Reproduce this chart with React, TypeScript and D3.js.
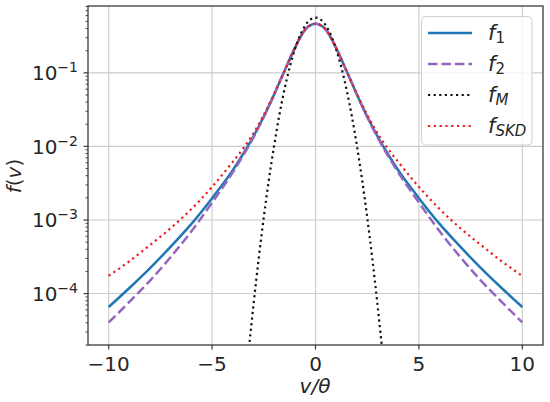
import React from 'react';
import * as d3 from 'd3';

// velocity grid (v/θ) for the kappa-like curves
const vGrid = [-10, -9, -8, -7, -6, -5, -4, -3.5, -3, -2.5, -2, -1.5, -1, -0.5, 0, 0.5, 1, 1.5, 2, 2.5, 3, 3.5, 4, 5, 6, 7, 8, 9, 10];

const f1Values = [
  0.0000656, 0.000119, 0.000222, 0.000434, 0.000885, 0.00198, 0.00475, 0.00789, 0.0137, 0.0255, 0.0509, 0.106, 0.217, 0.386,
  0.465,
  0.386, 0.217, 0.106, 0.0509, 0.0255, 0.0137, 0.00789, 0.00475, 0.00198, 0.000885, 0.000434, 0.000222, 0.000119, 0.0000656,
];

const f2Values = [
  0.0000405, 0.0000771, 0.00015, 0.000314, 0.000703, 0.001726, 0.00444, 0.0075, 0.01324, 0.0251, 0.0509, 0.106, 0.217, 0.386,
  0.465,
  0.386, 0.217, 0.106, 0.0509, 0.0251, 0.01324, 0.0075, 0.00444, 0.001726, 0.000703, 0.000314, 0.00015, 0.0000771, 0.0000405,
];

const fSkdValues = [
  0.000174, 0.000275, 0.000457, 0.000776, 0.00141, 0.00282, 0.00617, 0.00933, 0.0151, 0.0269, 0.0519, 0.106, 0.217, 0.386,
  0.465,
  0.386, 0.217, 0.106, 0.0519, 0.0269, 0.0151, 0.00933, 0.00617, 0.00282, 0.00141, 0.000776, 0.000457, 0.000275, 0.000174,
];

// finer grid for the Maxwellian
const vGridM = [-3.5, -3.25, -3, -2.75, -2.5, -2.25, -2, -1.75, -1.5, -1.25, -1, -0.75, -0.5, -0.25, 0, 0.25, 0.5, 0.75, 1, 1.25, 1.5, 1.75, 2, 2.25, 2.5, 2.75, 3, 3.25, 3.5];
const fMValues = [
  0.0000027, 0.0000146, 0.0000696, 0.000293, 0.00109, 0.00357, 0.0103, 0.0264, 0.0595, 0.1183, 0.2076, 0.3215, 0.4394, 0.53,
  0.5642,
  0.53, 0.4394, 0.3215, 0.2076, 0.1183, 0.0595, 0.0264, 0.0103, 0.00357, 0.00109, 0.000293, 0.0000696, 0.0000146, 0.0000027,
];

const xTicks = [-10, -5, 0, 5, 10];
const yTickExps = [-4, -3, -2, -1];

const series = [
  { key: 'f1', sub: '1', xs: vGrid, ys: f1Values, color: '#1f77b4', width: 2.5, dash: null },
  { key: 'f2', sub: '2', xs: vGrid, ys: f2Values, color: '#9467bd', width: 2.5, dash: '9.5,4' },
  { key: 'fM', sub: 'M', xs: vGridM, ys: fMValues, color: '#111111', width: 2.2, dash: '2.2,3.4' },
  { key: 'fSKD', sub: 'SKD', xs: vGrid, ys: fSkdValues, color: '#ee1c1c', width: 2.2, dash: '2.2,3.6' },
];

const W = 550;
const H = 402;
const left = 88;
const right = 543;
const top = 6;
const bottom = 345;
const font = '"DejaVu Sans", sans-serif';
const textColor = '#262626';

const App: React.FC = () => {
  const x = d3.scaleLinear().domain([-11, 11]).range([left, right]);
  const y = d3.scaleLog().domain([2e-5, 0.81]).range([bottom, top]);

  const minorTicks: number[] = [];
  for (let e = -5; e <= 0; e++) {
    for (let m = 2; m <= 9; m++) {
      const v = m * Math.pow(10, e);
      if (v >= 2e-5 && v <= 0.81) minorTicks.push(v);
    }
  }

  const line = d3
    .line<[number, number]>()
    .x((d) => x(d[0]))
    .y((d) => y(d[1]))
    .curve(d3.curveMonotoneX);

  const legendRows = [33, 64, 95, 126];

  return (
    <svg width={W} height={H} style={{ position: 'absolute', left: 0, top: 0, background: '#fff' }} fontFamily={font}>
      <defs>
        <clipPath id="plot">
          <rect x={left} y={top} width={right - left} height={bottom - top} />
        </clipPath>
      </defs>

      {/* grid */}
      {xTicks.map((t) => (
        <line key={'gx' + t} x1={x(t)} x2={x(t)} y1={top} y2={bottom} stroke="#cbcbcb" strokeWidth={1.1} />
      ))}
      {yTickExps.map((e) => (
        <line key={'gy' + e} x1={left} x2={right} y1={y(Math.pow(10, e))} y2={y(Math.pow(10, e))} stroke="#cbcbcb" strokeWidth={1.1} />
      ))}

      {/* curves */}
      <g clipPath="url(#plot)">
        {series.map((s) => (
          <path
            key={s.key}
            d={line(s.xs.map((v, i) => [v, s.ys[i]] as [number, number])) || ''}
            fill="none"
            stroke={s.color}
            strokeWidth={s.width}
            strokeDasharray={s.dash || undefined}
          />
        ))}
      </g>

      {/* frame */}
      <rect x={left} y={top} width={right - left} height={bottom - top} fill="none" stroke="#3a3a3a" strokeWidth={1.3} />

      {/* x ticks */}
      {xTicks.map((t) => (
        <g key={'xt' + t}>
          <line x1={x(t)} x2={x(t)} y1={bottom} y2={bottom + 4.5} stroke="#3a3a3a" strokeWidth={1.2} />
          <text x={x(t)} y={371} textAnchor="middle" fontSize={20} fill={textColor}>
            {t < 0 ? '\u2212' + Math.abs(t) : String(t)}
          </text>
        </g>
      ))}

      {/* y ticks */}
      {minorTicks.map((v) => (
        <line key={'mt' + v} x1={left - 2.5} x2={left} y1={y(v)} y2={y(v)} stroke="#3a3a3a" strokeWidth={0.9} />
      ))}
      {yTickExps.map((e) => {
        const ty = y(Math.pow(10, e));
        return (
          <g key={'yt' + e}>
            <line x1={left - 4.5} x2={left} y1={ty} y2={ty} stroke="#3a3a3a" strokeWidth={1.2} />
            <text x={78} y={ty + 7.3} textAnchor="end" fontSize={20} fill={textColor}>
              10
              <tspan fontSize={14} dy={-8}>
                {'\u2212' + Math.abs(e)}
              </tspan>
            </text>
          </g>
        );
      })}

      {/* axis labels */}
      <text x={315} y={393} textAnchor="middle" fontSize={20} fontStyle="italic" fill={textColor}>
        v/θ
      </text>
      <text transform={`translate(21,176) rotate(-90)`} textAnchor="middle" fontSize={20} fill={textColor}>
        <tspan fontStyle="italic">f</tspan>(<tspan fontStyle="italic">v</tspan>)
      </text>

      {/* legend */}
      <rect x={421.5} y={16.5} width={110.5} height={128.5} rx={4} fill="#ffffff" fillOpacity={0.8} stroke="#d0d0d0" strokeWidth={1} />
      {series.map((s, i) => {
        const ry = legendRows[i];
        return (
          <g key={'lg' + s.key}>
            <line
              x1={428}
              x2={472}
              y1={ry}
              y2={ry}
              stroke={s.color}
              strokeWidth={s.width}
              strokeDasharray={s.dash || undefined}
            />
            <text x={488} y={ry + 6.7} fontSize={21} fontStyle="italic" fill={textColor}>
              f
              <tspan fontSize={15} dy={3.5} fontStyle={s.sub.match(/\d/) ? 'normal' : 'italic'}>
                {s.sub}
              </tspan>
            </text>
          </g>
        );
      })}
    </svg>
  );
};

export default App;
